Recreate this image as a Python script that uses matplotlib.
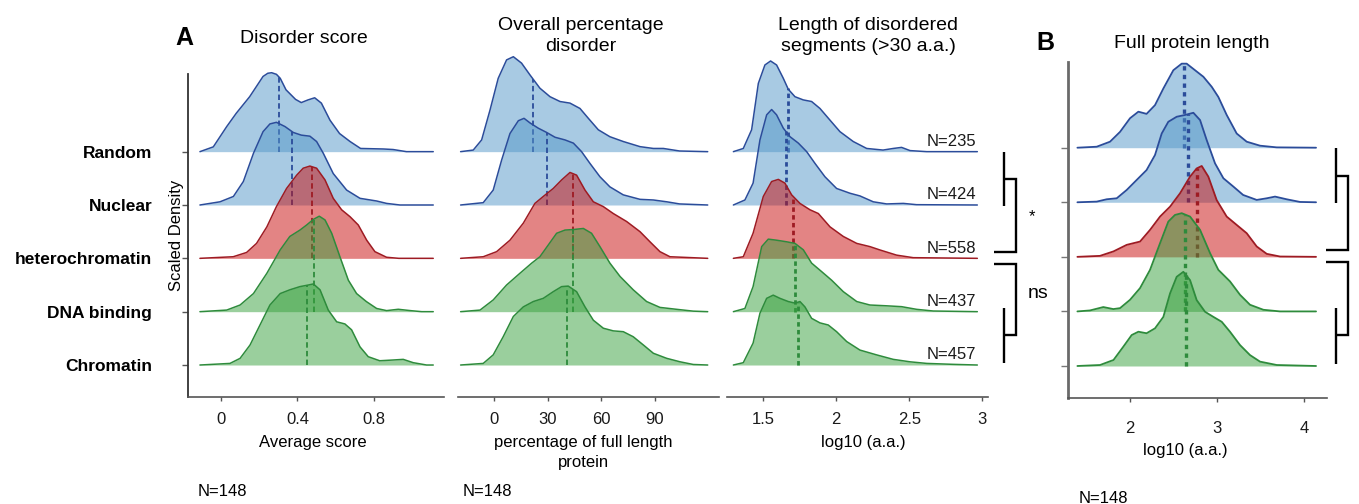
import numpy as np
import matplotlib
matplotlib.use("Agg")
import matplotlib.pyplot as plt
from matplotlib.transforms import blended_transform_factory

plt.rcParams['font.family'] = ['Liberation Sans', 'DejaVu Sans']

categories = ["Random", "Nuclear", "heterochromatin", "DNA binding", "Chromatin"]

# ridge outlines: (x value, scaled density in row units)
# panel A, disorder score
disorder_random = [(-0.11, 0), (-0.04, 0.09), (0.03, 0.47), (0.08, 0.72), (0.15, 1.03), (0.22, 1.41),
                   (0.245, 1.47), (0.265, 1.48), (0.29, 1.45), (0.31, 1.375), (0.34, 1.16), (0.39, 0.98),
                   (0.42, 0.92), (0.455, 0.97), (0.49, 1.01), (0.525, 0.91), (0.57, 0.59), (0.62, 0.34),
                   (0.675, 0.19), (0.73, 0.06), (0.85, 0.05), (0.90, 0.04), (0.97, 0.0), (1.11, 0)]
disorder_nuclear = [(-0.11, 0), (-0.005, 0.06), (0.065, 0.16), (0.117, 0.44), (0.17, 0.97), (0.22, 1.375),
                    (0.256, 1.52), (0.29, 1.55), (0.335, 1.47), (0.378, 1.36), (0.42, 1.31), (0.465, 1.29),
                    (0.50, 1.19), (0.535, 0.97), (0.587, 0.59), (0.657, 0.28), (0.727, 0.125), (0.814, 0.075),
                    (0.866, 0.03), (0.936, 0), (1.11, 0)]
disorder_hetero = [(-0.11, 0), (0.064, 0.03), (0.134, 0.11), (0.186, 0.28), (0.24, 0.59), (0.29, 0.97),
                   (0.343, 1.31), (0.396, 1.56), (0.43, 1.69), (0.465, 1.73), (0.50, 1.69), (0.544, 1.47),
                   (0.587, 1.125), (0.631, 0.91), (0.675, 0.78), (0.718, 0.625), (0.762, 0.34), (0.805, 0.125),
                   (0.866, 0.02), (0.93, 0), (1.11, 0)]
disorder_dna = [(-0.11, 0), (0.03, 0.03), (0.10, 0.125), (0.17, 0.34), (0.24, 0.72), (0.31, 1.16), (0.36, 1.41),
                (0.413, 1.53), (0.448, 1.625), (0.483, 1.73), (0.514, 1.79), (0.544, 1.72), (0.579, 1.47),
                (0.622, 1.03), (0.666, 0.59), (0.709, 0.34), (0.76, 0.19), (0.814, 0.06), (0.866, 0.02),
                (0.927, 0.045), (0.99, 0.02), (1.05, 0), (1.11, 0)]
disorder_chromatin = [(-0.11, 0), (0.047, 0.03), (0.10, 0.125), (0.152, 0.375), (0.204, 0.75), (0.256, 1.125),
                      (0.31, 1.34), (0.36, 1.41), (0.413, 1.47), (0.457, 1.5), (0.483, 1.52), (0.518, 1.41),
                      (0.561, 1.03), (0.605, 0.81), (0.648, 0.77), (0.683, 0.66), (0.727, 0.34), (0.77, 0.156),
                      (0.83, 0.08), (0.90, 0.094), (0.953, 0.106), (1.005, 0.044), (1.075, 0), (1.11, 0)]
disorder_medians = [0.305, 0.371, 0.474, 0.486, 0.448]

# panel A, overall percentage disorder
pct_random = [(-18.9, 0), (-11.8, 0.03), (-7.1, 0.22), (-2.4, 0.78), (2.2, 1.375), (6.9, 1.72), (10.7, 1.78),
              (15.3, 1.66), (20, 1.44), (25.6, 1.19), (31.3, 1.03), (36.9, 0.94), (42.5, 0.91), (48.1, 0.81),
              (52.8, 0.625), (58.4, 0.41), (64.9, 0.28), (72.4, 0.19), (81.8, 0.094), (89.3, 0.06),
              (94.9, 0.06), (104, 0.0125), (119.8, 0)]
pct_nuclear = [(-18.9, 0), (-6.2, 0.044), (-0.6, 0.28), (4.1, 0.84), (8.8, 1.34), (13.5, 1.58), (16.7, 1.625),
               (20, 1.54), (24.7, 1.44), (29.4, 1.36), (34.1, 1.27), (39.7, 1.22), (44.4, 1.16), (49, 1.0),
               (53.7, 0.78), (59.3, 0.53), (64.9, 0.34), (72.4, 0.19), (81.8, 0.106), (89.3, 0.094),
               (96.8, 0.06), (104, 0.02), (119.8, 0)]
pct_hetero = [(-18.9, 0), (-6.2, 0.03), (1.3, 0.125), (8.8, 0.34), (16.3, 0.66), (22.8, 1.03), (27.5, 1.16),
              (33.1, 1.31), (37.8, 1.47), (42.5, 1.61), (46.2, 1.56), (50.9, 1.28), (55.6, 1.06), (61.2, 0.97),
              (66.8, 0.84), (74.3, 0.69), (81.8, 0.5), (87.4, 0.31), (93, 0.125), (98.6, 0.03), (119.8, 0)]
pct_dna = [(-18.9, 0), (-8, 0.03), (-0.6, 0.22), (6.9, 0.5), (14.4, 0.72), (21, 0.91), (25.6, 1.03), (30.3, 1.25),
           (35, 1.47), (39.7, 1.53), (44.4, 1.54), (50, 1.56), (54.6, 1.47), (59.3, 1.22), (64.9, 0.91),
           (70.6, 0.66), (78, 0.41), (85.5, 0.19), (93, 0.08), (102.4, 0.044), (111.7, 0.01), (119.8, 0)]
pct_chromatin = [(-18.9, 0), (-6.2, 0.03), (-0.6, 0.19), (5, 0.53), (10.7, 0.91), (16.3, 1.09), (21.9, 1.19),
                 (27.5, 1.25), (33.1, 1.375), (37.8, 1.47), (41.5, 1.48), (46.2, 1.375), (50.9, 1.09),
                 (55.6, 0.84), (61.2, 0.69), (66.8, 0.64), (72.4, 0.625), (78, 0.53), (83.7, 0.375),
                 (89.3, 0.22), (96.8, 0.125), (104.3, 0.06), (111.7, 0.01), (119.8, 0)]
pct_medians = [21.9, 29.6, 44.4, 44.0, 40.8]

# panel A, length of disordered segments (log10 a.a.)
seg_random = [(1.295, 0), (1.363, 0.06), (1.42, 0.41), (1.466, 1.28), (1.511, 1.625), (1.55, 1.7), (1.591, 1.625),
              (1.637, 1.375), (1.671, 1.17), (1.717, 1.03), (1.774, 0.97), (1.831, 0.94), (1.888, 0.81),
              (1.957, 0.59), (2.025, 0.375), (2.116, 0.19), (2.208, 0.06), (2.32, 0.03), (2.39, 0.06),
              (2.447, 0.08), (2.505, 0.02), (2.62, 0), (2.966, 0)]
seg_nuclear = [(1.295, 0), (1.374, 0.094), (1.43, 0.41), (1.477, 1.22), (1.523, 1.69), (1.557, 1.79),
               (1.591, 1.69), (1.637, 1.44), (1.683, 1.28), (1.74, 1.16), (1.797, 1.0), (1.854, 0.78),
               (1.922, 0.53), (2.002, 0.31), (2.094, 0.22), (2.162, 0.17), (2.253, 0.06), (2.345, 0.02),
               (2.459, 0.03), (2.55, 0.006), (2.966, 0)]
seg_hetero = [(1.295, 0), (1.363, 0.03), (1.43, 0.47), (1.5, 1.16), (1.557, 1.44), (1.603, 1.48), (1.648, 1.41),
              (1.694, 1.19), (1.751, 1.03), (1.82, 0.91), (1.877, 0.84), (1.957, 0.59), (2.048, 0.41),
              (2.14, 0.28), (2.23, 0.22), (2.3, 0.156), (2.413, 0.06), (2.527, 0.0125), (2.966, 0)]
seg_dna = [(1.295, 0), (1.374, 0.06), (1.43, 0.47), (1.489, 1.22), (1.534, 1.36), (1.591, 1.34), (1.66, 1.31),
           (1.717, 1.28), (1.774, 1.16), (1.831, 0.91), (1.9, 0.75), (1.968, 0.59), (2.048, 0.375),
           (2.14, 0.19), (2.23, 0.125), (2.345, 0.11), (2.447, 0.094), (2.55, 0.044), (2.664, 0.0125), (2.966, 0)]
seg_chromatin = [(1.295, 0), (1.363, 0.044), (1.43, 0.41), (1.477, 0.97), (1.523, 1.25), (1.568, 1.31),
                 (1.614, 1.25), (1.671, 1.19), (1.717, 1.16), (1.751, 1.19), (1.785, 1.09), (1.831, 0.875),
                 (1.888, 0.79), (1.945, 0.75), (2.002, 0.625), (2.071, 0.44), (2.162, 0.28), (2.276, 0.19),
                 (2.39, 0.106), (2.505, 0.06), (2.62, 0.03), (2.8, 0.0125), (2.966, 0)]
seg_medians = [1.667, 1.653, 1.70, 1.717, 1.74]
seg_counts = [235, 424, 558, 437, 457]

# panel B, full protein length (log10 a.a.)
length_random = [(1.395, 0), (1.617, 0.018), (1.77, 0.11), (1.885, 0.29), (2.0, 0.54), (2.096, 0.66), (2.19, 0.62),
                 (2.287, 0.78), (2.383, 1.085), (2.498, 1.42), (2.594, 1.54), (2.651, 1.54), (2.747, 1.42),
                 (2.843, 1.3), (2.939, 1.116), (3.015, 0.93), (3.111, 0.6), (3.226, 0.26), (3.341, 0.11),
                 (3.494, 0.037), (3.686, 0.006), (4.138, 0)]
length_nuclear = [(1.395, 0), (1.617, 0.012), (1.732, 0.055), (1.847, 0.073), (1.962, 0.226), (2.077, 0.41),
                  (2.19, 0.59), (2.287, 0.866), (2.364, 1.26), (2.44, 1.475), (2.536, 1.567), (2.632, 1.6),
                  (2.728, 1.64), (2.805, 1.506), (2.881, 1.14), (2.977, 0.713), (3.073, 0.44), (3.188, 0.287),
                  (3.3, 0.134), (3.456, 0.043), (3.571, 0.073), (3.667, 0.104), (3.8, 0.055), (3.954, 0.006),
                  (4.138, 0)]
length_hetero = [(1.395, 0), (1.655, 0.018), (1.81, 0.1), (1.962, 0.22), (2.115, 0.28), (2.23, 0.494),
                 (2.345, 0.738), (2.46, 0.92), (2.575, 1.165), (2.69, 1.47), (2.766, 1.62), (2.824, 1.665),
                 (2.9, 1.47), (2.996, 1.04), (3.111, 0.738), (3.226, 0.585), (3.341, 0.433), (3.456, 0.19),
                 (3.571, 0.055), (3.724, 0.006), (4.138, 0)]
length_dna = [(1.395, 0), (1.54, 0.018), (1.693, 0.08), (1.808, 0.043), (1.885, 0.06), (2.0, 0.213),
              (2.115, 0.427), (2.23, 0.762), (2.345, 1.25), (2.44, 1.646), (2.517, 1.768), (2.594, 1.8),
              (2.69, 1.738), (2.805, 1.494), (2.92, 1.067), (3.015, 0.762), (3.149, 0.55), (3.264, 0.305),
              (3.379, 0.122), (3.533, 0.03), (3.724, 0), (4.138, 0)]
length_chromatin = [(1.395, 0), (1.655, 0.018), (1.81, 0.11), (1.923, 0.354), (2.019, 0.567), (2.096, 0.628),
                    (2.19, 0.6), (2.287, 0.69), (2.383, 0.9), (2.46, 1.33), (2.536, 1.634), (2.613, 1.726),
                    (2.69, 1.573), (2.766, 1.207), (2.862, 0.994), (2.958, 0.9), (3.054, 0.81), (3.149, 0.628),
                    (3.264, 0.384), (3.379, 0.2), (3.494, 0.08), (3.686, 0.018), (4.138, 0)]
length_medians = [2.62, 2.67, 2.774, 2.632, 2.64]

n_total = 148

W, H = 1359, 504
fig = plt.figure(figsize=(W / 100, H / 100), dpi=100)


def rect(x0, x1, y0, y1):
    # pixel box -> figure fraction
    return [x0 / W, 1 - y1 / H, (x1 - x0) / W, (y1 - y0) / H]


def fx(x):
    return x / W


def fy(y):
    return 1 - y / H


LINE = ['#2b4c9a', '#2b4c9a', '#9e1b23', '#2e8b3c', '#2e8b3c']
FILL = ['#5397c9', '#5397c9', '#c90b0b', '#37a13d', '#37a13d']


def ridges(ax, curves, medians, lw, dash_lw, dashes):
    for k, (pts, med) in enumerate(zip(curves, medians)):
        row = len(curves) - 1 - k
        x = np.array([p[0] for p in pts])
        h = np.array([p[1] for p in pts])
        z = 2 + k
        ax.fill_between(x, row, row + h, color=FILL[k], alpha=0.5, lw=0, zorder=z, clip_on=False)
        ax.plot(x, row + h, color=LINE[k], lw=lw, zorder=z + 0.2, clip_on=False,
                solid_joinstyle='round', solid_capstyle='round')
        top = np.interp(med, x, h)
        ax.plot([med, med], [row, row + top], color=LINE[k], lw=dash_lw, dashes=dashes, zorder=z + 0.1)


def style(ax, xlim, ylim, ticks, labels, pad):
    ax.set_xlim(xlim)
    ax.set_ylim(ylim)
    ax.set_xticks(ticks)
    ax.set_xticklabels(labels)
    ax.tick_params(axis='x', length=3, width=1, color='#555555', labelsize=12, pad=pad, labelcolor='#1a1a1a')
    ax.patch.set_alpha(0)
    for s in ['top', 'right', 'left']:
        ax.spines[s].set_visible(False)
    ax.spines['bottom'].set_color('#555555')
    ax.spines['bottom'].set_linewidth(1.2)
    ax.set_yticks([])


ylim_a = (-0.594, 5.456)

ax1 = fig.add_axes(rect(188.3, 444.3, 74, 396.7))
ridges(ax1, [disorder_random, disorder_nuclear, disorder_hetero, disorder_dna, disorder_chromatin],
       disorder_medians, 1.1, 1.3, (3, 1.8))
style(ax1, (-0.1708, 1.1677), ylim_a, [0, 0.4, 0.8], ["0", "0.4", "0.8"], 8)
ax1.spines['left'].set_visible(True)
ax1.spines['left'].set_color('#333333')
ax1.spines['left'].set_linewidth(1.3)
ax1.set_yticks(range(5))
ax1.set_yticklabels(categories[::-1], fontsize=12.5, fontweight='bold')
ax1.tick_params(axis='y', length=4, width=1, color='#555555', pad=22)

ax2 = fig.add_axes(rect(458.3, 719.3, 74, 396.7))
ridges(ax2, [pct_random, pct_nuclear, pct_hetero, pct_dna, pct_chromatin], pct_medians, 1.1, 1.3, (3, 1.8))
style(ax2, (-20.2, 126.3), ylim_a, [0, 30, 60, 90], ["0", "30", "60", "90"], 8)

ax3 = fig.add_axes(rect(727.3, 988.3, 74, 396.7))
ridges(ax3, [seg_random, seg_nuclear, seg_hetero, seg_dna, seg_chromatin], seg_medians, 1.1, 2.0, (1.6, 1.2))
style(ax3, (1.2534, 3.041), ylim_a, [1.5, 2, 2.5, 3], ["1.5", "2", "2.5", "3"], 8)
for k, n in enumerate(seg_counts):
    ax3.text(2.957, 4 - k + 0.19, f"N={n}", ha='right', va='center', fontsize=12, color='#1a1a1a', zorder=20)

axb = fig.add_axes(rect(1067.7, 1326.7, 61.7, 398.3))
ridges(axb, [length_random, length_nuclear, length_hetero, length_dna, length_chromatin], length_medians,
       1.3, 2.4, (1.3, 1.3))
style(axb, (1.2835, 4.2605), (-0.592, 5.576), [2, 3, 4], ["2", "3", "4"], 13)
axb.spines['left'].set_visible(True)
axb.spines['left'].set_color('#6a6a6a')
axb.spines['left'].set_linewidth(2)
axb.set_yticks(range(5))
axb.set_yticklabels([])
axb.tick_params(axis='y', length=5, width=1, color='#777777')


# significance brackets, x in figure pixels, y in ridge rows
def bracket(ax, inner, outer, tip):
    tr = blended_transform_factory(fig.transFigure, ax.transData)
    kw = dict(color='black', lw=1.7, transform=tr, clip_on=False, solid_joinstyle='miter',
              solid_capstyle='butt')
    xi, xo, xt = fx(inner), fx(outer), fx(tip)
    ax.plot([xi, xi], [4.0, 2.98], **kw)
    ax.plot([xi, xo, xo, xt], [3.48, 3.48, 2.12, 2.12], **kw)
    ax.plot([xt, xo, xo, xi], [1.9, 1.9, 0.57, 0.57], **kw)
    ax.plot([xi, xi], [1.06, 0.03], **kw)


bracket(ax3, 1004.3, 1016.3, 994)
bracket(axb, 1336, 1348.3, 1326)
fig.text(fx(1031.7), fy(217), "*", ha='center', va='center', fontsize=12)
fig.text(fx(1038.3), fy(294), "ns", ha='center', va='center', fontsize=14)

# titles and labels
fig.text(fx(184), fy(38.3), "A", ha='center', va='center', fontsize=18, fontweight='bold')
fig.text(fx(304.2), fy(38.3), "Disorder score", ha='center', va='center', fontsize=14)
fig.text(fx(580.8), fy(25), "Overall percentage", ha='center', va='center', fontsize=14)
fig.text(fx(580.8), fy(46.7), "disorder", ha='center', va='center', fontsize=14)
fig.text(fx(868.3), fy(25), "Length of disordered", ha='center', va='center', fontsize=14)
fig.text(fx(868.3), fy(46.7), "segments (>30 a.a.)", ha='center', va='center', fontsize=14)
fig.text(fx(1045.7), fy(43.3), "B", ha='center', va='center', fontsize=18, fontweight='bold')
fig.text(fx(1191.7), fy(43.3), "Full protein length", ha='center', va='center', fontsize=14)

fig.text(fx(176), fy(235), "Scaled Density", rotation=90, ha='center', va='center', fontsize=12)
fig.text(fx(313), fy(442.3), "Average score", ha='center', va='center', fontsize=12)
fig.text(fx(583.3), fy(442.3), "percentage of full length", ha='center', va='center', fontsize=12)
fig.text(fx(583.3), fy(462.3), "protein", ha='center', va='center', fontsize=12)
fig.text(fx(863.8), fy(442.3), "log10 (a.a.)", ha='center', va='center', fontsize=12)
fig.text(fx(1185.3), fy(450), "log10 (a.a.)", ha='center', va='center', fontsize=12)

fig.text(fx(197.7), fy(491.7), f"N={n_total}", ha='left', va='center', fontsize=12)
fig.text(fx(462.7), fy(491.7), f"N={n_total}", ha='left', va='center', fontsize=12)
fig.text(fx(1078.3), fy(498.3), f"N={n_total}", ha='left', va='center', fontsize=12)

fig.savefig("out.png", dpi=100)
